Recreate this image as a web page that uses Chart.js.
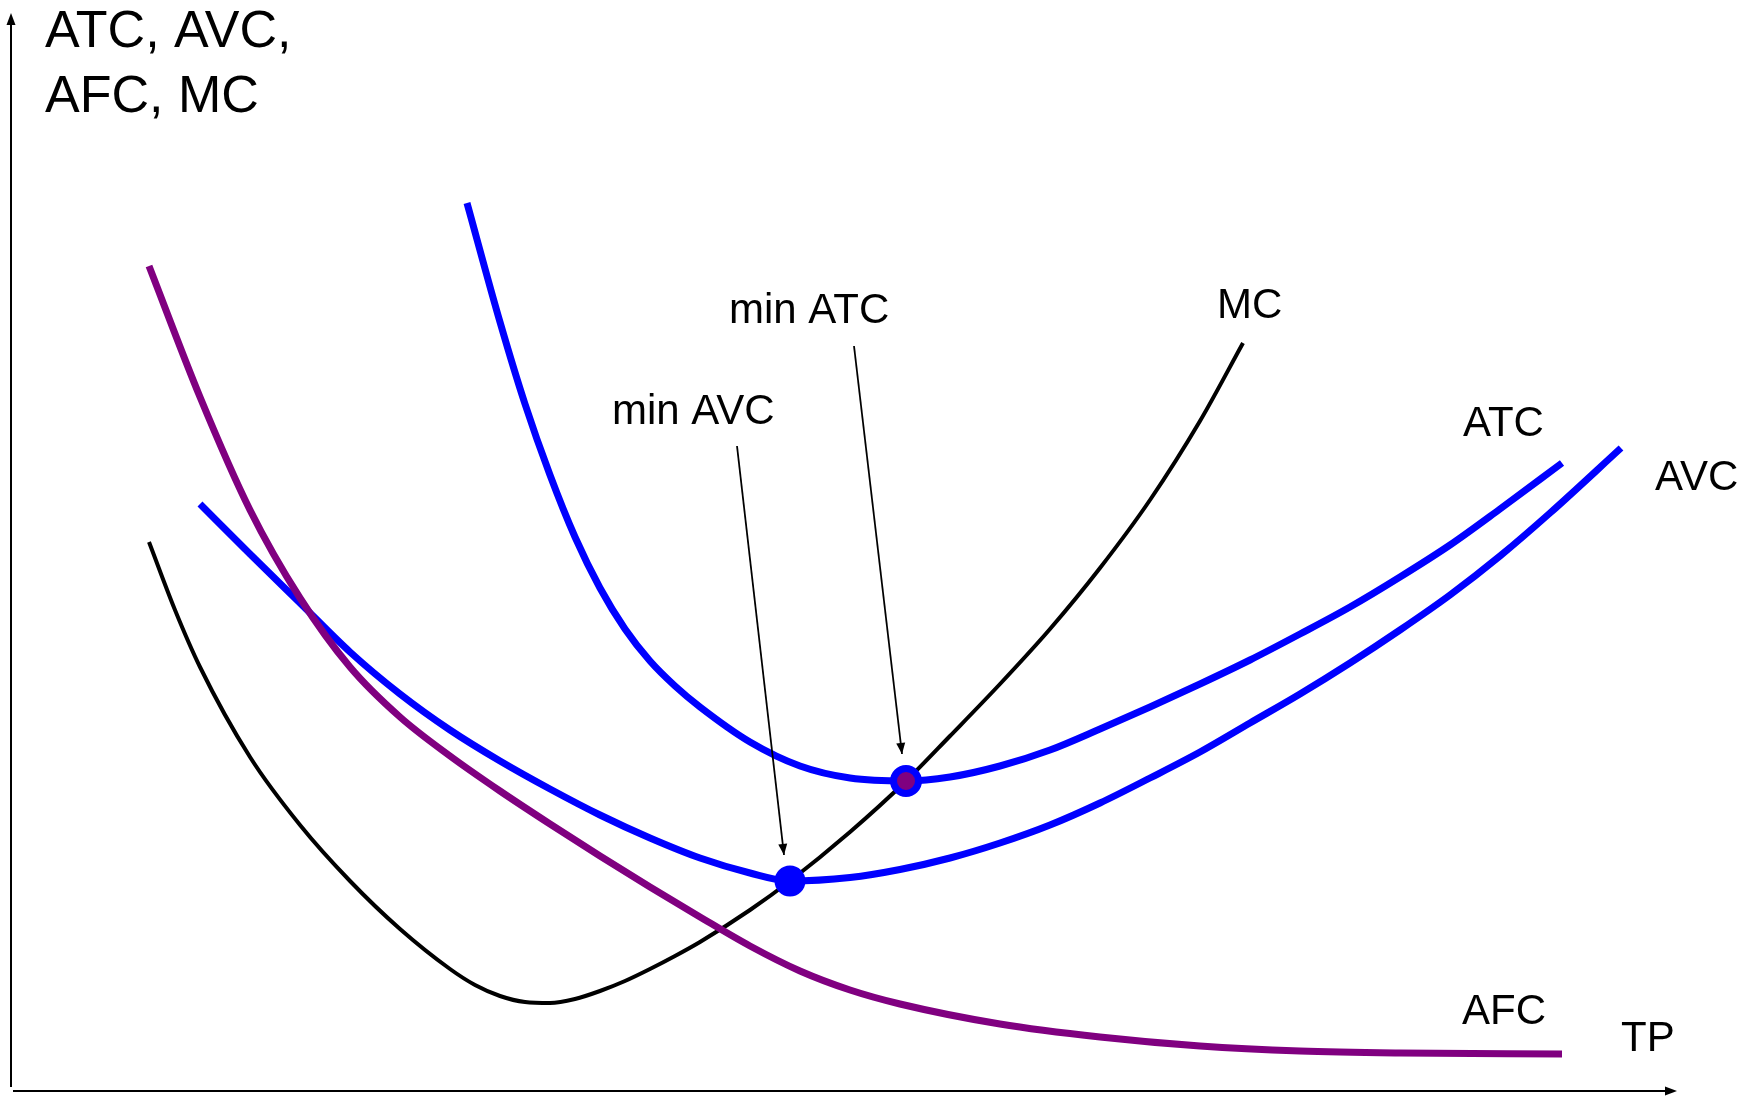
<!DOCTYPE html>
<html>
<head>
<meta charset="utf-8">
<script src="https://cdn.jsdelivr.net/npm/chart.js@4/dist/chart.umd.min.js"></script>
<style>
html,body{margin:0;padding:0;background:#fff;overflow:hidden}
#wrap{position:relative;width:1748px;height:1103px}
</style>
</head>
<body>
<div id="wrap"><canvas id="c" width="1748" height="1103"></canvas></div>
<script>
// ---- data (TP on x, cost per unit on y, arbitrary units) ----
const afcTP   = [13.8, 18.9, 23.9, 28.9, 33.9, 38.9, 43.9, 48.9, 53.9, 58.9, 63.9, 68.9, 73.9, 78.9, 83.9, 88.9, 98.9, 108.9, 118.9, 128.9, 138.9, 155.1];
const afcCost = [82.5, 69.4, 58.1, 49.3, 42.4, 37.4, 33.5, 30.0, 26.7, 23.5, 20.4, 17.4, 14.5, 12.0, 10.1, 8.7, 6.7, 5.4, 4.5, 4.0, 3.8, 3.7];

const avcTP   = [18.9, 23.9, 28.9, 33.9, 38.9, 43.9, 48.9, 53.9, 58.9, 63.9, 68.9, 73.9, 77.9, 83.9, 88.9, 93.9, 98.9, 103.9, 108.9, 113.9, 118.9, 123.9, 128.9, 133.9, 138.9, 143.9, 148.9, 153.9, 161.0];
const avcCost = [58.7, 53.7, 48.8, 43.9, 39.7, 36.1, 33.0, 30.2, 27.6, 25.3, 23.3, 21.8, 21.0, 21.35, 22.15, 23.3, 24.8, 26.6, 28.8, 31.3, 33.9, 36.8, 39.7, 42.8, 46.1, 49.6, 53.5, 57.8, 64.3];

const atcTP   = [45.6, 48.9, 51.4, 53.9, 56.4, 58.9, 61.4, 63.9, 66.4, 68.9, 73.9, 78.9, 83.9, 89.5, 93.9, 98.9, 103.9, 108.9, 113.9, 118.9, 123.9, 128.9, 133.9, 138.9, 143.9, 148.9, 155.1];
const atcCost = [88.8, 76.9, 68.7, 61.6, 55.4, 50.3, 46.2, 43.0, 40.5, 38.4, 34.9, 32.5, 31.3, 31.0, 31.4, 32.5, 34.1, 36.2, 38.4, 40.7, 43.1, 45.7, 48.4, 51.4, 54.6, 58.2, 62.8];

const mcTP    = [13.8, 16.4, 18.9, 23.9, 28.9, 33.9, 38.9, 43.9, 46.4, 48.9, 51.4, 53.9, 56.4, 58.9, 61.4, 63.9, 66.4, 68.9, 73.9, 77.9, 83.9, 89.5, 93.9, 98.9, 103.9, 108.9, 113.9, 118.9, 123.2];
const mcCost  = [54.9, 48.1, 42.4, 33.4, 26.6, 21.0, 16.2, 12.2, 10.6, 9.5, 8.9, 8.8, 9.2, 10.0, 11.0, 12.2, 13.5, 14.9, 18.1, 21.0, 25.9, 31.0, 35.5, 40.7, 46.2, 52.3, 59.1, 67.0, 74.8];

const minAVC = [77.9, 21.0];
const minATC = [89.5, 31.0];

// annotation arrows: [tail, tip]
const arrowAVC = [[72.6, 64.5], [77.3, 23.6]];
const arrowATC = [[84.3, 74.5], [89.1, 33.7]];

// text
const labelText = ['ATC, AVC,', 'AFC, MC', 'min ATC', 'min AVC', 'MC', 'ATC', 'AVC', 'AFC', 'TP'];

// ---- layout / style (kept separate from data) ----
const labelAt   = [[3.4,104.4],[3.4,97.9],[71.8,76.8],[60.1,66.7],[120.6,77.3],[145.2,65.5],[164.4,60.1],[145.1,6.7],[161.0,4.0]];
const labelSize = [52,52,42,42,42,42,42,42,42];
const FONT = '"Liberation Sans", Arial, Helvetica, sans-serif';
const BLUE = '#0000ff', PURPLE = '#800080', BLACK = '#000000';

const pts = (xs, ys) => xs.map((v, i) => ({x: v, y: ys[i]}));
const curve = (xs, ys, color, w, order) => ({
  data: pts(xs, ys), showLine: true, borderColor: color, backgroundColor: color,
  borderWidth: w, pointRadius: 0, pointHoverRadius: 0, fill: false,
  cubicInterpolationMode: 'monotone', order: order, borderCapStyle: 'butt'
});
const arrowDs = (a) => ({
  data: a.map(p => ({x: p[0], y: p[1]})), showLine: true, borderColor: BLACK,
  borderWidth: 1.8, pointRadius: 0, tension: 0, fill: false, order: 1
});

function arrowHead(ctx, x1, y1, x2, y2, len, hw) {
  const dx = x2 - x1, dy = y2 - y1, d = Math.hypot(dx, dy);
  const ux = dx / d, uy = dy / d, bx = x2 - ux * len, by = y2 - uy * len;
  ctx.beginPath();
  ctx.moveTo(x2, y2);
  ctx.lineTo(bx - uy * hw, by + ux * hw);
  ctx.lineTo(bx + uy * hw, by - ux * hw);
  ctx.closePath();
  ctx.fill();
}

const overlay = {
  id: 'overlay',
  afterDatasetsDraw(chart) {
    const ctx = chart.ctx, xs = chart.scales.x, ys = chart.scales.y;
    const X = v => xs.getPixelForValue(v), Y = v => ys.getPixelForValue(v);
    ctx.save();
    ctx.strokeStyle = BLACK; ctx.fillStyle = BLACK;
    // axes
    ctx.lineWidth = 2;
    ctx.beginPath();
    ctx.moveTo(X(0), Y(0.4)); ctx.lineTo(X(0), Y(107.8) + 10);
    ctx.moveTo(X(0.2), Y(0)); ctx.lineTo(X(166.6) - 10, Y(0));
    ctx.stroke();
    arrowHead(ctx, X(0), Y(50), X(0), Y(107.8), 12, 4.5);
    arrowHead(ctx, X(50), Y(0), X(166.6), Y(0), 12, 4.5);
    // annotation arrow heads
    [arrowAVC, arrowATC].forEach(a => {
      arrowHead(ctx, X(a[0][0]), Y(a[0][1]), X(a[1][0]), Y(a[1][1]), 11, 4.5);
    });
    // labels
    ctx.textAlign = 'left'; ctx.textBaseline = 'alphabetic';
    labelText.forEach((t, i) => {
      ctx.font = labelSize[i] + 'px ' + FONT;
      ctx.fillText(t, X(labelAt[i][0]), Y(labelAt[i][1]));
    });
    ctx.restore();
  }
};

new Chart(document.getElementById('c'), {
  type: 'scatter',
  data: {
    datasets: [
      {data: [{x: minAVC[0], y: minAVC[1]}], pointRadius: 15.5, pointHoverRadius: 15.5,
       backgroundColor: BLUE, borderColor: BLUE, borderWidth: 0, order: 0},
      {data: [{x: minATC[0], y: minATC[1]}], pointRadius: 12.5, pointHoverRadius: 12.5,
       backgroundColor: PURPLE, borderColor: BLUE, borderWidth: 7, order: 0},
      arrowDs(arrowAVC),
      arrowDs(arrowATC),
      curve(afcTP, afcCost, PURPLE, 7, 2),
      curve(avcTP, avcCost, BLUE, 7, 3),
      curve(atcTP, atcCost, BLUE, 7, 4),
      curve(mcTP, mcCost, BLACK, 4, 5)
    ]
  },
  options: {
    responsive: false, animation: false, devicePixelRatio: 1,
    layout: {padding: 0, autoPadding: false},
    plugins: {legend: {display: false}, tooltip: {enabled: false}, title: {display: false}},
    events: [],
    scales: {
      x: {type: 'linear', min: -1.1, max: 173.7, display: false},
      y: {type: 'linear', min: -1.2, max: 109.1, display: false}
    }
  },
  plugins: [overlay]
});
</script>
</body>
</html>
